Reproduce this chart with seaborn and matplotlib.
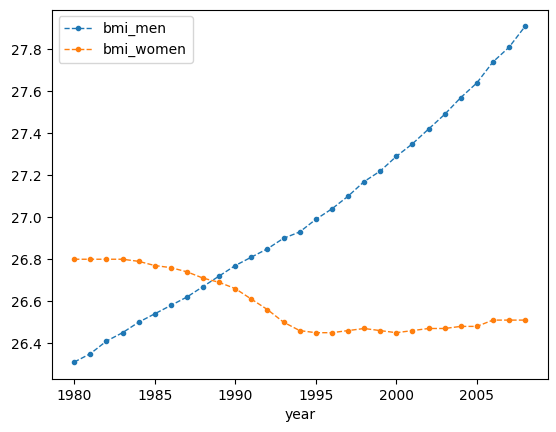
import numpy as np
import pandas as pd
import matplotlib
matplotlib.use("Agg")
import matplotlib.pyplot as plt
import seaborn as sns

years = list(range(1980, 2009))
bmi_men = [26.31, 26.35, 26.41, 26.45, 26.50, 26.54, 26.58, 26.62, 26.67, 26.72,
           26.77, 26.81, 26.85, 26.90, 26.93, 26.99, 27.04, 27.10, 27.17, 27.22,
           27.29, 27.35, 27.42, 27.49, 27.57, 27.64, 27.74, 27.81, 27.91]
bmi_women = [26.80, 26.80, 26.80, 26.80, 26.79, 26.77, 26.76, 26.74, 26.71, 26.69,
             26.66, 26.61, 26.56, 26.50, 26.46, 26.45, 26.45, 26.46, 26.47, 26.46,
             26.45, 26.46, 26.47, 26.47, 26.48, 26.48, 26.51, 26.51, 26.51]

df = pd.DataFrame({"year": years, "bmi_men": bmi_men, "bmi_women": bmi_women})

fig, ax = plt.subplots(figsize=(5.56, 4.32), dpi=100)
fig.subplots_adjust(left=0.093, right=0.985, top=0.978, bottom=0.123)

for col, color in [("bmi_men", "C0"), ("bmi_women", "C1")]:
    sns.lineplot(data=df, x="year", y=col, ax=ax, label=col, color=color,
                 marker=".", markersize=6, markeredgecolor=color,
                 markeredgewidth=1, linestyle="--", linewidth=1)

ax.set_ylabel("")
ax.set_xlabel("year")
ax.legend(loc="upper left")

plt.savefig("out.png", dpi=100)
